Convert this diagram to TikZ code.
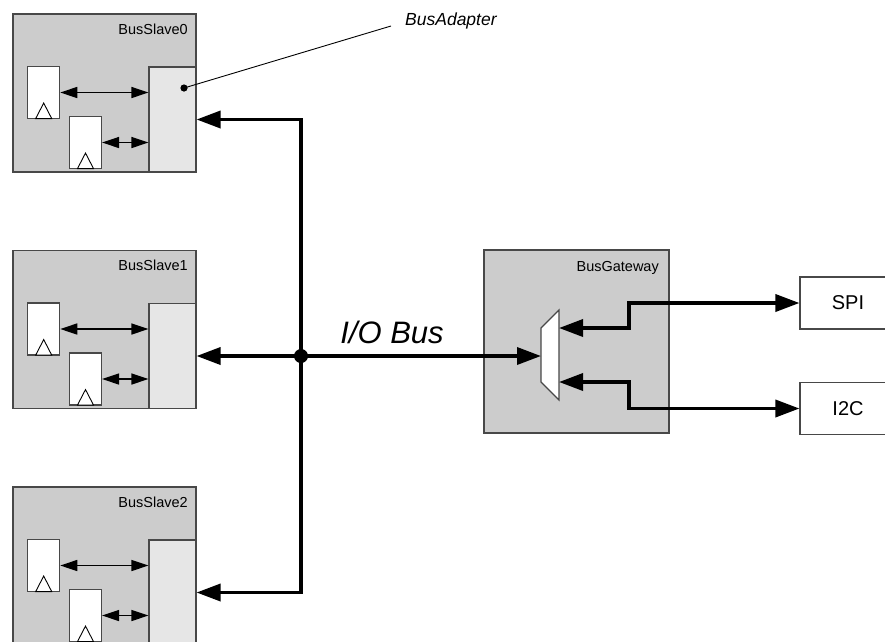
\documentclass[tikz,border=0pt]{standalone}
\usepackage{fontspec}
\setmainfont{Liberation Sans}
\usetikzlibrary{arrows.meta,calc}
\definecolor{boxgray}{HTML}{CCCCCC}
\definecolor{adgray}{HTML}{E6E6E6}
\definecolor{edgegray}{HTML}{484848}
\tikzset{
  outerbox/.style={draw=edgegray,line width=1.2pt,fill=boxgray,inner sep=0pt,minimum width=#1},
  regbox/.style={draw=edgegray,line width=1.1pt,fill=white,inner sep=0pt,minimum width=32pt,minimum height=52pt},
  adbox/.style={draw=edgegray,line width=1.1pt,fill=adgray,inner sep=0pt,minimum width=47pt,minimum height=105pt},
  perbox/.style={draw=edgegray,line width=1.1pt,fill=white,inner sep=0pt,minimum width=96pt,minimum height=52pt,font=\fontsize{20}{24}\selectfont},
  smalllabel/.style={font=\fontsize{14.5}{17}\selectfont,inner sep=0pt},
  bigtip/.tip={Triangle[length=24pt,width=17pt]},
  smalltip/.tip={Triangle[length=17pt,width=11pt]},
  bus/.style={line width=3.5pt,draw=black},
  link/.style={line width=1.4pt,draw=black,{smalltip}-{smalltip}},
  clocktri/.style={draw=black,line width=0.9pt,fill=white},
}
\begin{document}
\begin{tikzpicture}[x=1pt,y=-1pt]
\useasboundingbox (0,0) rectangle (885,641);
\clip (0,0) rectangle (885,641);
\fill[white] (0,0) rectangle (885,641);
% slaves
\foreach \i/\t in {0/14,1/250.5,2/487}{
  \node[outerbox=183pt,minimum height=158pt] (s\i) at (104.5,\t+79) {};
  \node[smalllabel,anchor=base east] (sl\i) at (188,\t+20) {BusSlave\i};
  \node[regbox] (ra\i) at (43.7,\t+78.5) {};
  \node[regbox] (rb\i) at (85.5,\t+128.5) {};
  \node[adbox] (ad\i) at (172.5,\t+105.5) {};
  \draw[clocktri] ($(ra\i.south)+(-8,-0.5)$) -- ($(ra\i.south)+(0,-16)$) -- ($(ra\i.south)+(8,-0.5)$) -- cycle;
  \draw[clocktri] ($(rb\i.south)+(-8,-0.5)$) -- ($(rb\i.south)+(0,-16)$) -- ($(rb\i.south)+(8,-0.5)$) -- cycle;
  \draw[link] (ra\i.east) -- (ra\i.east -| ad\i.west);
  \draw[link] (rb\i.east) -- (rb\i.east -| ad\i.west);
}
% bus adapter callout
\node[font=\fontsize{17.5}{20}\selectfont\itshape,anchor=base west,inner sep=0pt] (bal) at (405,25) {BusAdapter};
\coordinate (badot) at (184,88);
\coordinate (baend) at (391,26);
\fill (badot) circle (3.6);
\draw[line width=0.9pt] (badot) -- (baend);
% gateway
\node[outerbox=185pt,minimum height=183pt] (gw) at (576.5,341.5) {};
\node[smalllabel,anchor=base east] (gwl) at (659,271) {BusGateway};
\draw[draw=edgegray,line width=1.1pt,fill=white] (541,328) -- (559,310) -- (559,400) -- (541,382) -- cycle;
\coordinate (muxin) at (541,356);
\coordinate (muxo1) at (559,328);
\coordinate (muxo2) at (559,382);
% peripherals
\node[perbox] (spi) at (848,303) {SPI};
\node[perbox] (i2c) at (848,408.5) {I2C};
% bus
\coordinate (jn) at (301,356);
\draw[bus,{bigtip}-{bigtip}] (ad0.east) -| (jn) |- (ad2.east);
\draw[bus,{bigtip}-{bigtip}] (ad1.east) -- (muxin);
\fill (jn) circle (7);
\node[font=\fontsize{31}{36}\selectfont\itshape,anchor=base,inner sep=0pt] (iol) at (392,343) {I/O Bus};
\draw[bus,{bigtip}-{bigtip}] (muxo1) -- (629,328) |- (spi.west);
\draw[bus,{bigtip}-{bigtip}] (muxo2) -- (629,382) |- (i2c.west);
\end{tikzpicture}
\end{document}
